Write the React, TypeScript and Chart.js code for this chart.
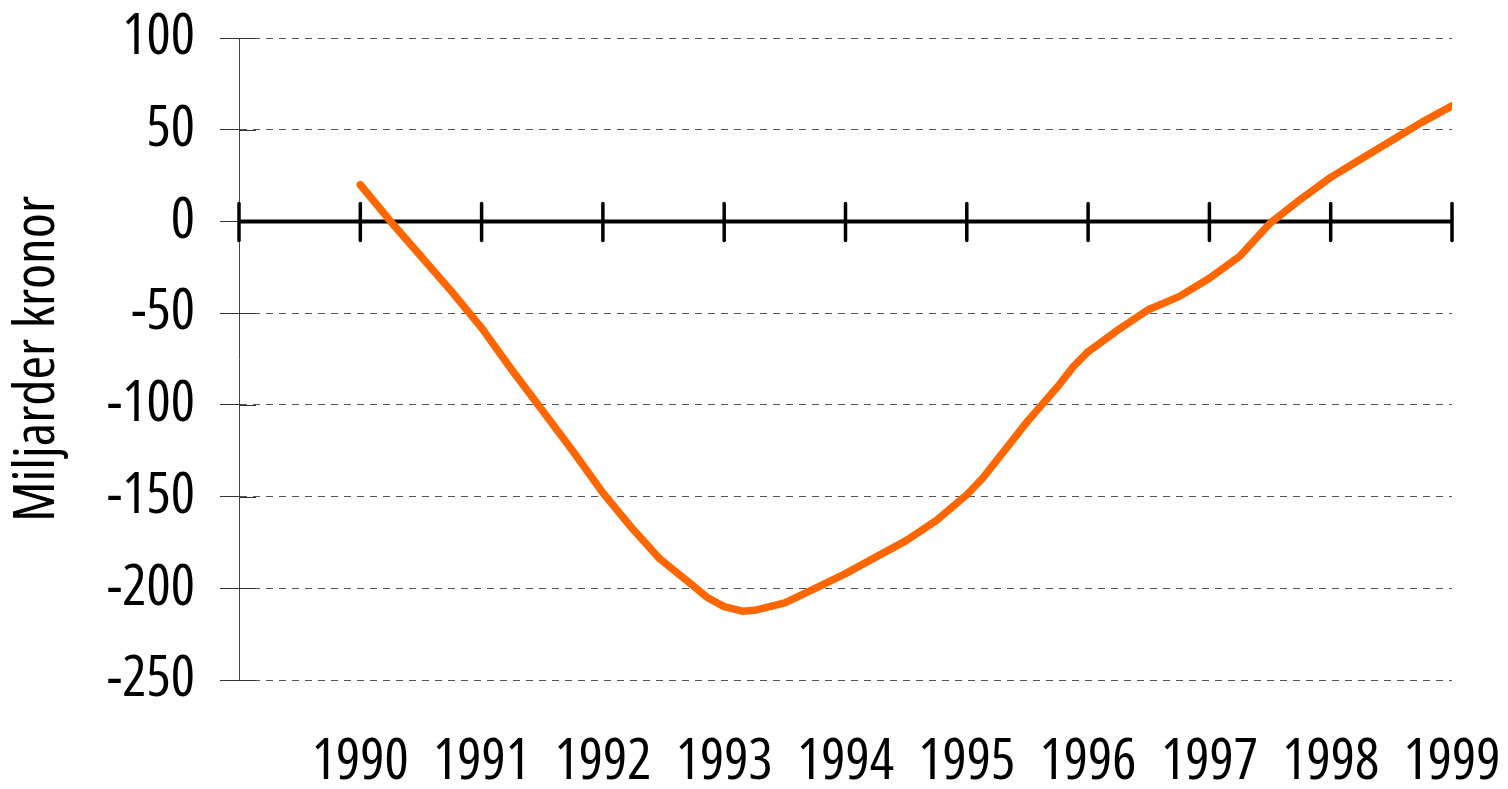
import React, { useEffect, useRef } from 'react';
import { Chart, registerables } from 'chart.js';

Chart.register(...registerables);

// Decimal years of the observations
const years = [
  1990.0, 1990.25, 1990.5, 1990.75,
  1991.0, 1991.25, 1991.5, 1991.75,
  1992.0, 1992.25, 1992.47, 1992.62, 1992.75, 1992.86,
  1993.0, 1993.15, 1993.25, 1993.5, 1993.75,
  1994.0, 1994.25, 1994.5, 1994.75,
  1995.0, 1995.13, 1995.25, 1995.5, 1995.75, 1995.88,
  1996.0, 1996.25, 1996.5, 1996.75,
  1997.0, 1997.25, 1997.5, 1997.75,
  1998.0, 1998.25, 1998.5, 1998.75,
  1999.0,
];

// Miljarder kronor
const values = [
  20, 0, -19, -38,
  -58, -81, -103, -125,
  -148, -168, -184, -192, -199, -205,
  -210, -212.5, -212, -208, -200,
  -192, -183, -174, -163,
  -149, -140, -130, -109, -90, -79,
  -71, -59, -48, -41,
  -31, -19, -1, 12,
  24, 34, 44, 54,
  63,
];

const yearTicks = [1989, 1990, 1991, 1992, 1993, 1994, 1995, 1996, 1997, 1998, 1999];
const yTickValues = [100, 50, 0, -50, -100, -150, -200, -250];
const yTitle = 'Miljarder kronor';

const FAMILY = "'Open Sans', 'DejaVu Sans', sans-serif";
// 'condensed' goes into the CSS font shorthand (font-stretch) via the weight slot
const STRETCH = 'condensed';

const zeroAxisPlugin = {
  id: 'zeroAxis',
  beforeDatasetsDraw(chart: any) {
    const { ctx, chartArea, scales } = chart;
    const xs = scales.x;
    const ys = scales.y;
    const y0 = ys.getPixelForValue(0);
    ctx.save();
    // short solid stubs of y ticks inside the axis
    ctx.strokeStyle = '#333';
    ctx.lineWidth = 1;
    for (const v of yTickValues) {
      const py = Math.round(ys.getPixelForValue(v)) + 0.5;
      ctx.beginPath();
      ctx.moveTo(chartArea.left, py);
      ctx.lineTo(chartArea.left + 17, py);
      ctx.stroke();
    }
    // zero line
    ctx.strokeStyle = '#000';
    ctx.lineWidth = 4;
    ctx.beginPath();
    ctx.moveTo(chartArea.left, y0);
    ctx.lineTo(chartArea.right, y0);
    ctx.stroke();
    // year ticks crossing the zero line
    ctx.lineWidth = 3.5;
    ctx.lineCap = 'round';
    for (const yr of yearTicks) {
      const px = xs.getPixelForValue(yr);
      ctx.beginPath();
      ctx.moveTo(px, y0 - 18);
      ctx.lineTo(px, y0 + 19);
      ctx.stroke();
    }
    ctx.restore();
  },
};

const zeroPadding = (s: any) => {
  s.paddingTop = 0;
  s.paddingBottom = 0;
  s.paddingLeft = 0;
  s.paddingRight = 0;
};

export default function App() {
  const canvasRef = useRef<HTMLCanvasElement | null>(null);

  useEffect(() => {
    if (!canvasRef.current) return;
    const chart = new Chart(canvasRef.current, {
      type: 'line',
      data: {
        datasets: [
          {
            label: yTitle,
            data: years.map((x, i) => ({ x, y: values[i] })),
            borderColor: '#FF6600',
            borderWidth: 7.5,
            borderCapStyle: 'round',
            borderJoinStyle: 'round',
            pointRadius: 0,
            tension: 0,
            fill: false,
          },
        ],
      },
      options: {
        animation: false,
        responsive: true,
        maintainAspectRatio: false,
        layout: { padding: { top: 38, right: 56, bottom: 0, left: 0 } },
        plugins: {
          legend: { display: false },
          tooltip: { enabled: false },
        },
        scales: {
          x: {
            type: 'linear',
            min: 1989,
            max: 1999,
            afterBuildTicks: (s: any) => {
              s.ticks = yearTicks.map((v) => ({ value: v }));
            },
            afterFit: (s: any) => {
              s.height = 109;
              zeroPadding(s);
            },
            ticks: {
              autoSkip: false,
              maxRotation: 0,
              padding: 49,
              color: '#000',
              font: { family: FAMILY, size: 57, weight: STRETCH, lineHeight: 1.2 },
              callback: (v: any) => (v === 1989 ? '' : String(v)),
            },
            grid: { display: false, drawTicks: false },
            border: { display: false },
          },
          y: {
            min: -250,
            max: 100,
            afterBuildTicks: (s: any) => {
              s.ticks = yTickValues.map((v) => ({ value: v }));
            },
            afterFit: (s: any) => {
              s.width = 239;
              zeroPadding(s);
            },
            ticks: {
              padding: 25,
              color: '#000',
              font: { family: FAMILY, size: 57, weight: STRETCH, lineHeight: 1.2 },
              callback: (v: any) => String(v),
            },
            grid: {
              color: '#555',
              lineWidth: 1,
              drawTicks: true,
              tickLength: 19,
              tickColor: '#333',
              tickWidth: 1,
            },
            border: { display: true, color: '#444', width: 1, dash: [7, 6] },
            title: {
              display: true,
              text: yTitle,
              color: '#000',
              font: { family: FAMILY, size: 57, weight: STRETCH, lineHeight: 1.2 },
              padding: { top: 4, bottom: 0 },
            },
          },
        },
      },
      plugins: [zeroAxisPlugin],
    } as any);
    return () => chart.destroy();
  }, []);

  return (
    <div style={{ position: 'fixed', left: 0, top: 0, width: 1508, height: 789, background: '#fff' }}>
      <canvas ref={canvasRef} />
    </div>
  );
}
